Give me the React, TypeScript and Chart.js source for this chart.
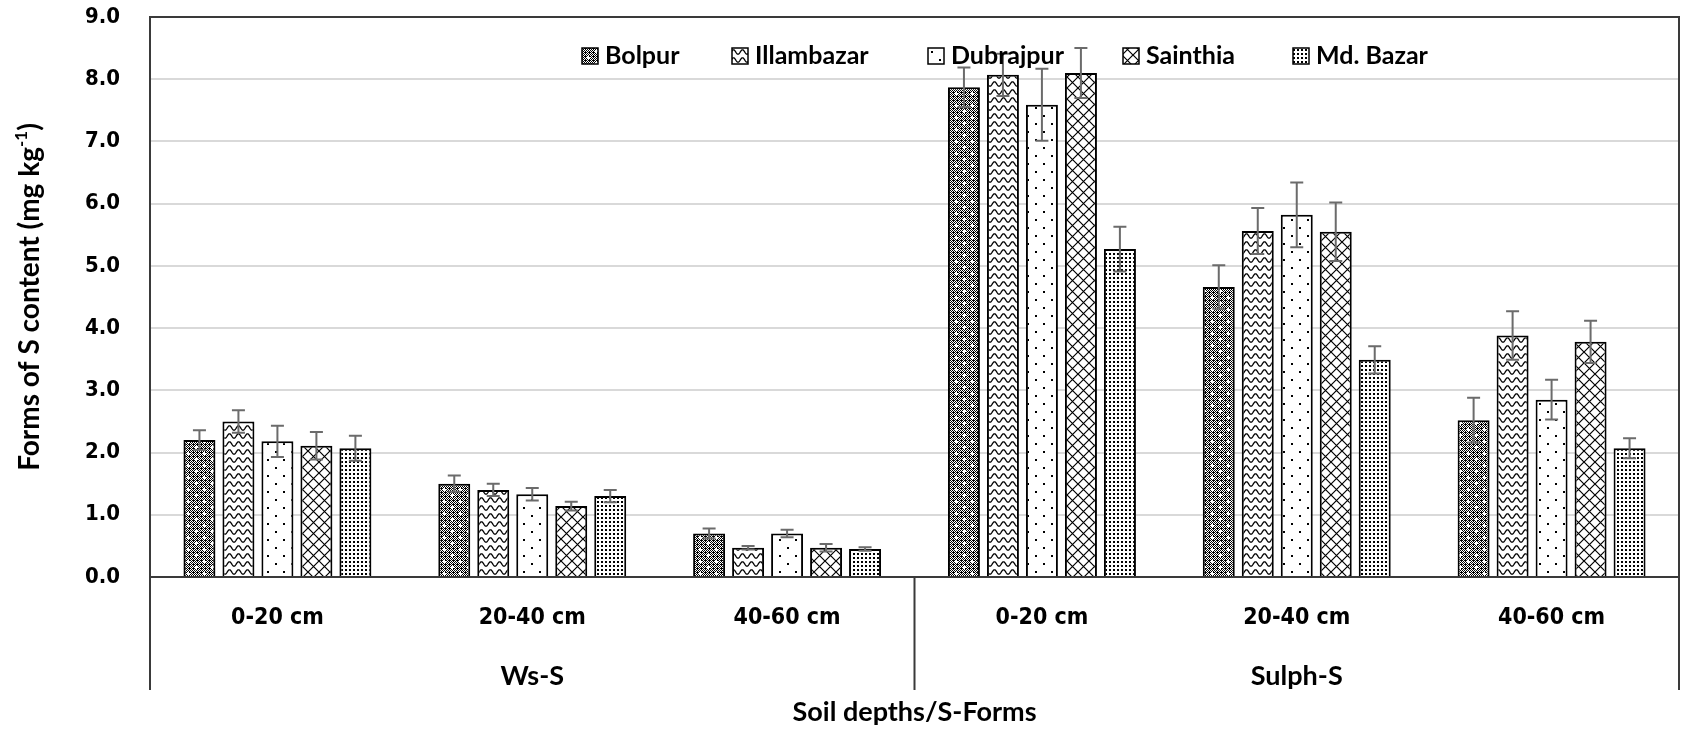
import React, { useEffect, useRef } from "react";
import { Chart, registerables } from "chart.js";

Chart.register(...registerables);

// ---------- data ----------
const categories = ["0-20 cm", "20-40 cm", "40-60 cm", "0-20 cm", "20-40 cm", "40-60 cm"];
const groupLabels = ["Ws-S", "Sulph-S"];
const seriesNames = ["Bolpur", "Illambazar", "Dubrajpur", "Sainthia", "Md. Bazar"];

const bolpur = [2.2, 1.5, 0.7, 7.87, 4.66, 2.52];
const illambazar = [2.5, 1.4, 0.47, 8.07, 5.56, 3.88];
const dubrajpur = [2.18, 1.33, 0.7, 7.59, 5.82, 2.85];
const sainthia = [2.11, 1.14, 0.47, 8.1, 5.55, 3.78];
const mdBazar = [2.07, 1.3, 0.45, 5.27, 3.49, 2.07];

const bolpurErr = [0.16, 0.13, 0.08, 0.32, 0.35, 0.36];
const illambazarErr = [0.18, 0.1, 0.03, 0.34, 0.37, 0.39];
const dubrajpurErr = [0.25, 0.1, 0.06, 0.58, 0.52, 0.32];
const sainthiaErr = [0.22, 0.07, 0.06, 0.4, 0.47, 0.34];
const mdBazarErr = [0.2, 0.1, 0.03, 0.36, 0.22, 0.16];

const yMin = 0;
const yMax = 9;
const yStep = 1;

const yTitleMain = "Forms of S content (mg kg";
const yTitleSup = "-1";
const yTitleEnd = ")";
const xTitle = "Soil depths/S-Forms";

const seriesValues = [bolpur, illambazar, dubrajpur, sainthia, mdBazar];
const seriesErrors = [bolpurErr, illambazarErr, dubrajpurErr, sainthiaErr, mdBazarErr];

// ---------- styles ----------
const TICK_FONT = "'DejaVu Sans Condensed', 'DejaVu Sans', sans-serif";
const LABEL_FONT = "Lato, 'Open Sans', sans-serif";
const LEGEND_X = [582, 732, 928, 1123, 1293];

function makePattern(kind: number): CanvasPattern | string {
  const c = document.createElement("canvas");
  const g = c.getContext("2d");
  if (!g) return "#fff";
  if (kind === 0) {
    c.width = 16; c.height = 12;
    g.fillStyle = "#fff"; g.fillRect(0, 0, 16, 12);
    g.fillStyle = "#000";
    for (let x = 0; x < 16; x++) for (let y = 0; y < 12; y++) {
      if ((x + y) % 2 === 0 || (x % 4 === 1 && y % 4 === 0)) g.fillRect(x, y, 1, 1);
    }
    g.fillStyle = "#fff";
    const plus = (px: number, py: number) => {
      g.fillRect(px - 1, py, 3, 1);
      g.fillRect(px, py - 1, 1, 3);
    };
    plus(4, 3); plus(12, 9);
  } else if (kind === 1) {
    c.width = 9; c.height = 8;
    g.fillStyle = "#fff"; g.fillRect(0, 0, 9, 8);
    g.strokeStyle = "#000"; g.lineWidth = 1.3;
    g.beginPath();
    for (let x = -1; x <= 10; x += 0.5) {
      const y = 4 + 2.2 * Math.cos((2 * Math.PI * x) / 9);
      if (x === -1) g.moveTo(x, y); else g.lineTo(x, y);
    }
    g.stroke();
  } else if (kind === 2) {
    c.width = 16; c.height = 16;
    g.fillStyle = "#fff"; g.fillRect(0, 0, 16, 16);
    g.fillStyle = "#000";
    g.fillRect(3, 3, 2, 2);
    g.fillRect(11, 11, 2, 2);
  } else if (kind === 3) {
    c.width = 11; c.height = 11;
    g.fillStyle = "#fff"; g.fillRect(0, 0, 11, 11);
    g.strokeStyle = "#000"; g.lineWidth = 1.2;
    g.beginPath();
    g.moveTo(-1, -1); g.lineTo(12, 12);
    g.moveTo(12, -1); g.lineTo(-1, 12);
    g.stroke();
  } else {
    c.width = 4; c.height = 4;
    g.fillStyle = "#fff"; g.fillRect(0, 0, 4, 4);
    g.fillStyle = "#000";
    g.fillRect(1, 1, 2, 2);
  }
  const p = g.createPattern(c, "repeat");
  return p || "#fff";
}

const errorBarPlugin = {
  id: "errorBars",
  afterDatasetsDraw(chart: any) {
    const ctx = chart.ctx;
    const yScale = chart.scales.y;
    ctx.save();
    ctx.strokeStyle = "#6b6b6b";
    ctx.lineWidth = 2;
    chart.data.datasets.forEach((ds: any, i: number) => {
      const meta = chart.getDatasetMeta(i);
      meta.data.forEach((el: any, j: number) => {
        const v = ds.data[j];
        const e = seriesErrors[i][j];
        const yt = yScale.getPixelForValue(v + e);
        const yb = yScale.getPixelForValue(v - e);
        const x = el.x;
        ctx.beginPath();
        ctx.moveTo(x, yt); ctx.lineTo(x, yb);
        ctx.moveTo(x - 6.5, yt); ctx.lineTo(x + 6.5, yt);
        ctx.moveTo(x - 6.5, yb); ctx.lineTo(x + 6.5, yb);
        ctx.stroke();
      });
    });
    ctx.restore();
  },
};

const framePlugin = {
  id: "frame",
  afterDraw(chart: any) {
    const ctx = chart.ctx;
    const area = chart.chartArea;
    const xs = chart.scales.x;
    const bottomExt = 690;
    ctx.save();
    ctx.strokeStyle = "#3a3a3a";
    ctx.lineWidth = 2;
    const mid = (xs.getPixelForValue(2) + xs.getPixelForValue(3)) / 2;
    ctx.beginPath();
    ctx.moveTo(area.left, bottomExt); ctx.lineTo(area.left, area.top);
    ctx.lineTo(area.right, area.top); ctx.lineTo(area.right, bottomExt);
    ctx.moveTo(area.left, area.bottom); ctx.lineTo(area.right, area.bottom);
    ctx.moveTo(mid, area.bottom); ctx.lineTo(mid, bottomExt);
    ctx.stroke();

    ctx.fillStyle = "#000";
    ctx.textAlign = "center";
    ctx.textBaseline = "middle";
    ctx.font = `bold 27px ${LABEL_FONT}`;
    ctx.fillText(groupLabels[0], xs.getPixelForValue(1), 676);
    ctx.fillText(groupLabels[1], xs.getPixelForValue(4), 676);
    ctx.fillText(xTitle, (area.left + area.right) / 2, 712);

    // y title
    ctx.save();
    ctx.translate(30, (area.top + area.bottom) / 2);
    ctx.rotate(-Math.PI / 2);
    ctx.textAlign = "left";
    const mainFont = `bold 28px ${LABEL_FONT}`;
    const supFont = `bold 17px ${LABEL_FONT}`;
    ctx.font = mainFont;
    const w1 = ctx.measureText(yTitleMain).width;
    const w3 = ctx.measureText(yTitleEnd).width;
    ctx.font = supFont;
    const w2 = ctx.measureText(yTitleSup).width;
    const start = -(w1 + w2 + w3) / 2;
    ctx.font = mainFont;
    ctx.fillText(yTitleMain, start, 0);
    ctx.fillText(yTitleEnd, start + w1 + w2, 0);
    ctx.font = supFont;
    ctx.fillText(yTitleSup, start + w1, -8);
    ctx.restore();

    // legend
    ctx.textAlign = "left";
    ctx.font = `bold 25px ${LABEL_FONT}`;
    chart.data.datasets.forEach((ds: any, i: number) => {
      const lx = LEGEND_X[i];
      const ly = 56;
      ctx.fillStyle = ds.backgroundColor;
      ctx.fillRect(lx, ly - 8, 16, 16);
      ctx.strokeStyle = "#000";
      ctx.lineWidth = 1.5;
      ctx.strokeRect(lx, ly - 8, 16, 16);
      ctx.fillStyle = "#000";
      ctx.fillText(ds.label, lx + 23, ly);
    });
    ctx.restore();
  },
};

export default function App() {
  const ref = useRef<HTMLCanvasElement | null>(null);
  useEffect(() => {
    document.body.style.margin = "0";
    if (!ref.current) return;
    const datasets = seriesNames.map((name, i) => ({
      label: name,
      data: seriesValues[i],
      backgroundColor: makePattern(i) as any,
      borderColor: "#000",
      borderWidth: 2,
      categoryPercentage: 0.765,
      barPercentage: 0.82,
    }));
    const chart = new Chart(ref.current, {
      type: "bar",
      data: { labels: categories, datasets },
      options: {
        responsive: false,
        animation: false,
        layout: { padding: { top: 17, right: 3, left: 0, bottom: 0 } },
        plugins: { legend: { display: false }, tooltip: { enabled: false } },
        scales: {
          x: {
            grid: { display: false, drawTicks: false },
            border: { display: false },
            ticks: {
              color: "#000",
              font: { family: TICK_FONT, size: 23, weight: "bold" },
              padding: 27,
              maxRotation: 0,
            },
            afterFit(scale: any) { scale.height = 158; },
          },
          y: {
            min: yMin,
            max: yMax,
            grid: { color: "#d9d9d9", lineWidth: 2, drawTicks: false },
            border: { display: false },
            ticks: {
              stepSize: yStep,
              color: "#000",
              padding: 30,
              font: { family: TICK_FONT, size: 22, weight: "bold" },
              callback: (v: any) => Number(v).toFixed(1),
            },
            afterFit(scale: any) {
              scale.width = 150;
              scale.paddingTop = 0;
              scale.paddingBottom = 0;
            },
          },
        },
      },
      plugins: [errorBarPlugin, framePlugin],
    });
    return () => chart.destroy();
  }, []);
  return (
    <div style={{ width: 1682, height: 735, overflow: "hidden" }}>
      <canvas ref={ref} width={1682} height={735} style={{ display: "block" }} />
    </div>
  );
}
